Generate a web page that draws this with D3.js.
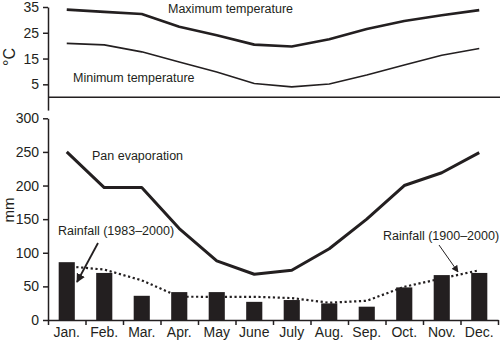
<!DOCTYPE html>
<html>
<head>
<meta charset="utf-8">
<script src="https://cdn.jsdelivr.net/npm/d3@7"></script>
<style>
  body { margin: 0; background: #fff; }
  svg { display: block; font-family: "Liberation Sans", Arial, Helvetica, sans-serif; }
</style>
</head>
<body>
<svg id="chart" width="500" height="340"></svg>
<script>
// data
const months = ["Jan.", "Feb.", "Mar.", "Apr.", "May", "June", "July", "Aug.", "Sep.", "Oct.", "Nov.", "Dec."];
const maxTemp = [34, 33.1, 32.3, 27.3, 24, 20.4, 19.7, 22.5, 26.5, 29.6, 31.8, 33.8];
const minTemp = [20.9, 20.3, 17.6, 13.7, 9.8, 5.3, 4, 5.1, 8.6, 12.5, 16.3, 18.9];
const panEvap = [250, 197, 197, 136, 88, 68, 74, 106, 150, 200, 219, 249];
const rain8300 = [86, 70, 36, 41.5, 41.5, 27, 29.7, 24.7, 19.8, 48.5, 66.8, 70];
const rain0000 = [80, 75, 59, 34.6, 34.5, 34.5, 32.6, 25.7, 28.6, 49.4, 61.8, 74];
const tempTicks = [5, 15, 25, 35];
const mmTicks = [0, 50, 100, 150, 200, 250, 300];

const svg = d3.select("#chart");
const ink = "#231f20";

const x = d3.scaleBand(months, [48, 498]);
const xb = d3.scaleBand(months, [48, 498]).paddingInner(0.57).paddingOuter(0.285);
const xi = d3.scaleLinear([0, 12], [48, 498]);
const xc = (m) => x(m) + x.bandwidth() / 2;

const yT = d3.scaleLinear([-5, 35], [110.1, 7]);
const yB = d3.scaleLinear([0, 300], [320, 118.3]);

svg.append("defs").selectAll("marker")
  .data([{id: "ahBig", w: 9, h: 9}, {id: "ahSmall", w: 7, h: 7}])
  .join("marker")
  .attr("id", d => d.id)
  .attr("viewBox", "0 0 10 10")
  .attr("refX", 9).attr("refY", 5)
  .attr("markerUnits", "userSpaceOnUse")
  .attr("markerWidth", d => d.w).attr("markerHeight", d => d.h)
  .attr("orient", "auto")
  .append("path").attr("d", "M0,0 L10,5 L0,10 z").attr("fill", ink);

// ---- top panel: temperature
const gT = svg.append("g");

gT.append("g")
  .attr("transform", "translate(48,0)")
  .call(d3.axisLeft(yT).tickValues(tempTicks).tickSize(5).tickPadding(4).tickSizeOuter(0))
  .call(g => g.selectAll("text").attr("font-size", 14).attr("fill", ink).attr("font-family", null))
  .call(g => g.selectAll("line,path").attr("stroke", ink).attr("stroke-width", 1.5));

gT.append("line")
  .attr("x1", 48).attr("x2", 500)
  .attr("y1", yT(0)).attr("y2", yT(0))
  .attr("stroke", ink).attr("stroke-width", 1.6);

const lineT = (vals) => d3.line().x((d, i) => xc(months[i])).y(d => yT(d))(vals);

gT.append("path").attr("d", lineT(maxTemp))
  .attr("fill", "none").attr("stroke", ink).attr("stroke-width", 2.6).attr("stroke-linejoin", "round");
gT.append("path").attr("d", lineT(minTemp))
  .attr("fill", "none").attr("stroke", ink).attr("stroke-width", 1.6).attr("stroke-linejoin", "round");

gT.append("text").attr("x", 168).attr("y", 13).attr("font-size", 12.5).attr("fill", ink).text("Maximum temperature");
gT.append("text").attr("x", 73).attr("y", 82).attr("font-size", 12.5).attr("fill", ink).text("Minimum temperature");

gT.append("text")
  .attr("transform", "translate(15,57) rotate(-90)")
  .attr("text-anchor", "middle").attr("font-size", 16).attr("fill", ink)
  .text("°C");

// ---- bottom panel: evaporation and rainfall
const gB = svg.append("g");

gB.append("g")
  .attr("transform", "translate(48,0)")
  .call(d3.axisLeft(yB).tickValues(mmTicks).tickSize(5).tickPadding(4).tickSizeOuter(0))
  .call(g => g.selectAll("text").attr("font-size", 14).attr("fill", ink).attr("font-family", null))
  .call(g => g.selectAll("line,path").attr("stroke", ink).attr("stroke-width", 1.5));

// long-term rainfall (dotted), behind the bars
gB.append("path")
  .attr("d", d3.line().x((d, i) => xc(months[i])).y(d => yB(d))(rain0000))
  .attr("fill", "none").attr("stroke", ink).attr("stroke-width", 2.2)
  .attr("stroke-dasharray", "2.2,2.6");

gB.append("g").selectAll("rect")
  .data(rain8300)
  .join("rect")
  .attr("x", (d, i) => xb(months[i]))
  .attr("width", xb.bandwidth())
  .attr("y", d => yB(d))
  .attr("height", d => yB(0) - yB(d))
  .attr("fill", ink);

gB.append("path")
  .attr("d", d3.line().x((d, i) => xc(months[i])).y(d => yB(d))(panEvap))
  .attr("fill", "none").attr("stroke", ink).attr("stroke-width", 3).attr("stroke-linejoin", "round");

// x axis: ticks between months, labels centred
gB.append("g")
  .attr("transform", `translate(0,${yB(0)})`)
  .call(d3.axisBottom(xi).tickValues(d3.range(13)).tickFormat("").tickSize(5).tickSizeOuter(0))
  .call(g => g.selectAll("line,path").attr("stroke", ink).attr("stroke-width", 1.5));

gB.append("g")
  .attr("transform", `translate(0,${yB(0)})`)
  .call(d3.axisBottom(x).tickSize(0).tickPadding(7))
  .call(g => g.select(".domain").remove())
  .call(g => g.selectAll("text").attr("font-size", 14).attr("fill", ink).attr("font-family", null));

gB.append("text")
  .attr("transform", "translate(14,210) rotate(-90)")
  .attr("text-anchor", "middle").attr("font-size", 15).attr("fill", ink)
  .text("mm");

gB.append("text").attr("x", 92).attr("y", 160).attr("font-size", 12.5).attr("fill", ink).text("Pan evaporation");
gB.append("text").attr("x", 58).attr("y", 235).attr("font-size", 12.5).attr("fill", ink).text("Rainfall (1983–2000)");
gB.append("text").attr("x", 383).attr("y", 240).attr("font-size", 12.5).attr("fill", ink).text("Rainfall (1900–2000)");

gB.append("line")
  .attr("x1", 98).attr("y1", 243).attr("x2", 77).attr("y2", 282)
  .attr("stroke", ink).attr("stroke-width", 1.8).attr("marker-end", "url(#ahBig)");
gB.append("line")
  .attr("x1", 439).attr("y1", 245).attr("x2", 458).attr("y2", 272)
  .attr("stroke", ink).attr("stroke-width", 1).attr("marker-end", "url(#ahSmall)");
</script>
</body>
</html>
